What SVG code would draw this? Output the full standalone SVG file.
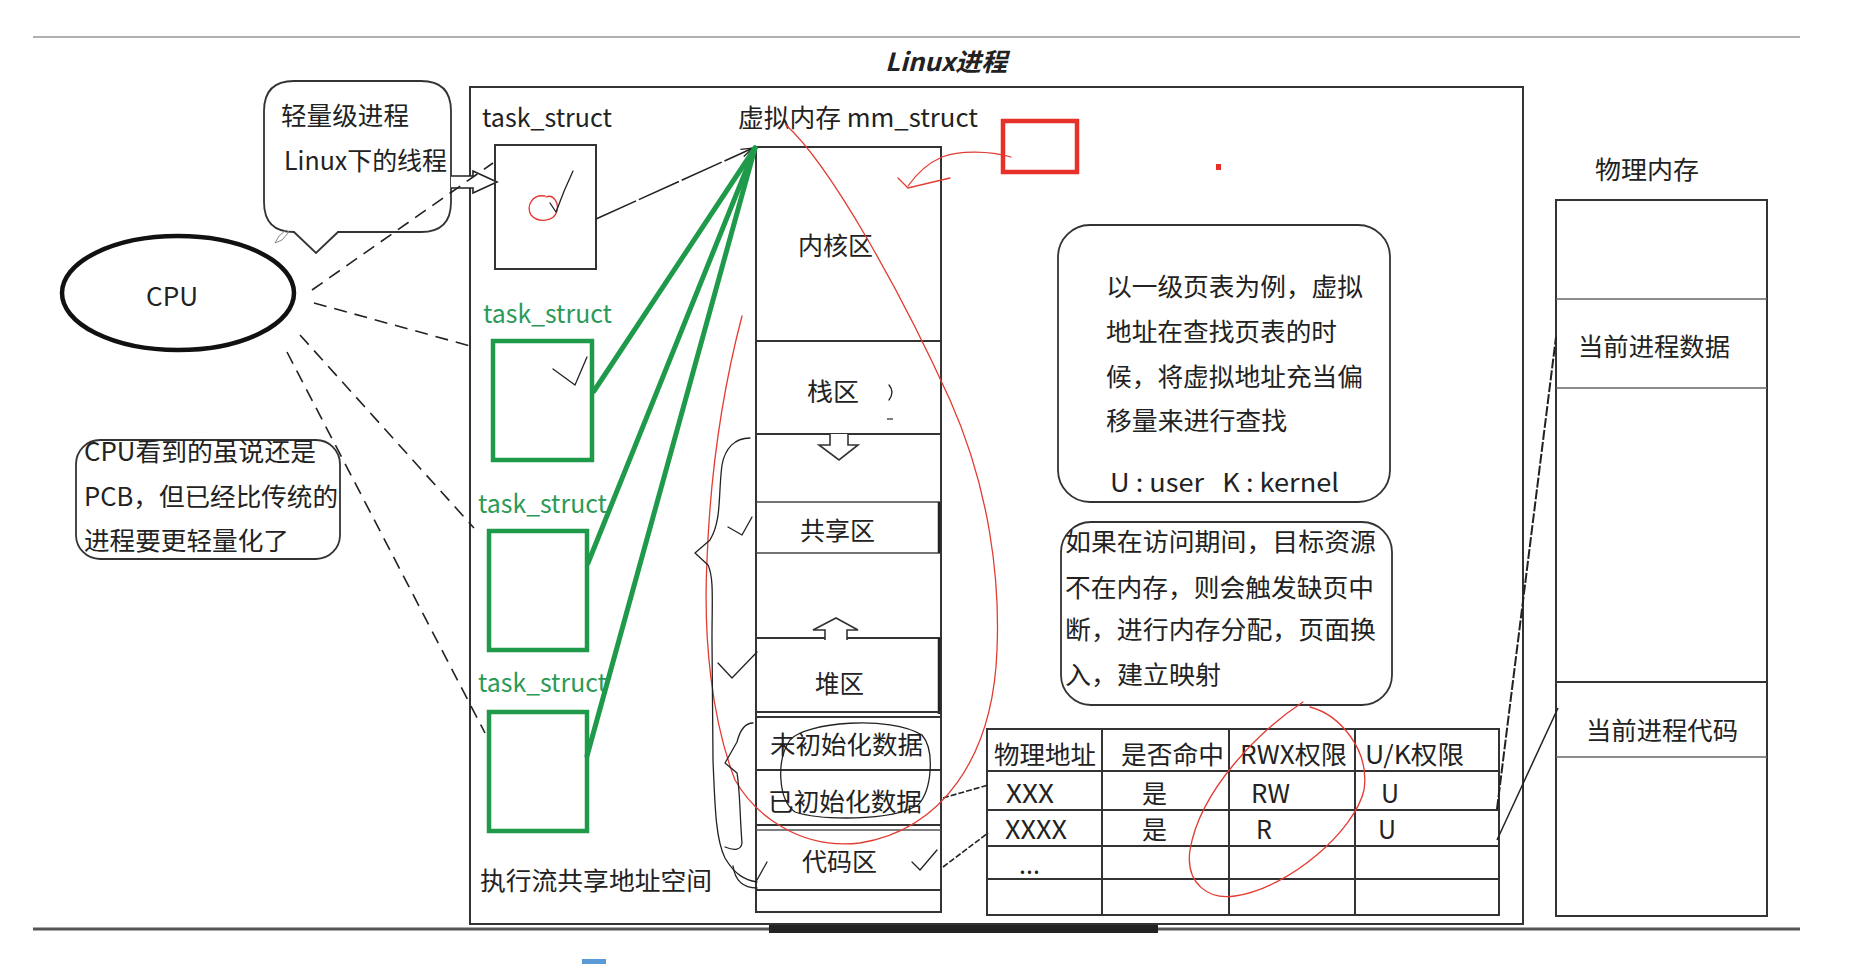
<svg xmlns="http://www.w3.org/2000/svg" width="1866" height="964" viewBox="0 0 1866 964">
<defs>
<style>
.t{font-family:"Noto Sans CJK SC","Noto Sans",sans-serif;font-size:25px;fill:#222}
.g{fill:#2a9a56}
.box{fill:none;stroke:#333;stroke-width:2}
.gbox{fill:none;stroke:#1f9a4b;stroke-width:4.5}
.gl{stroke:#1f9a4b;stroke-width:5;stroke-linecap:round;fill:none}
.dash{stroke:#222;stroke-width:1.6;stroke-dasharray:13 8;fill:none}
.hand{fill:none;stroke:#222;stroke-width:1.3;stroke-linecap:round;stroke-linejoin:round}
.red{fill:none;stroke:#e33b31;stroke-width:1.3;stroke-linecap:round}
.div{stroke:#333;stroke-width:2}
</style>
<marker id="open" markerWidth="14" markerHeight="10" refX="13" refY="5" orient="auto" markerUnits="userSpaceOnUse">
<path d="M1,1 L13,5 L1,9" fill="none" stroke="#222" stroke-width="1.3"/>
</marker>
</defs>
<rect width="1866" height="964" fill="#fff"/>

<!-- page lines -->
<line x1="33" y1="37" x2="1800" y2="37" stroke="#b0b0b0" stroke-width="2"/>
<line x1="33" y1="929" x2="1800" y2="929" stroke="#555" stroke-width="3"/>
<rect x="769" y="925" width="389" height="8" fill="#222"/>
<rect x="582" y="959" width="24" height="5" fill="#5b9bd5"/>

<text class="t" x="885" y="71" font-size="24" font-weight="bold" font-style="italic" textLength="122" lengthAdjust="spacingAndGlyphs">Linux进程</text>

<!-- main frame -->
<g id="main-frame">
<rect x="470" y="87" width="1053" height="837" class="box"/>
</g>

<!-- CPU -->
<g id="cpu">
<ellipse cx="178" cy="293" rx="116" ry="57" fill="#fff" stroke="#111" stroke-width="4.5"/>
<text class="t" x="146" y="306" font-size="26" textLength="52" lengthAdjust="spacingAndGlyphs">CPU</text>
</g>

<!-- bubble -->
<g id="bubble-lwp">
<path d="M294,81 H421 Q451,81 451,111 V202 Q451,232 421,232 H338 L316,253 L294,232 Q264,232 264,202 V111 Q264,81 294,81 Z" fill="#fff" stroke="#333" stroke-width="1.8"/>
<text class="t" x="281" y="125" textLength="128" lengthAdjust="spacingAndGlyphs">轻量级进程</text>
<text class="t" x="284" y="170" textLength="163" lengthAdjust="spacingAndGlyphs">Linux下的线程</text>
<path d="M275,243 L279,236 L286,230 L289,232 L282,240 Z" fill="none" stroke="#888" stroke-width="1"/>
<path d="M451,176 H473 V171 L497,182 L473,193 V188 H451" fill="#fff" stroke="#222" stroke-width="1.6"/>
</g>

<!-- CPU note -->
<g id="cpu-note">
<rect x="76" y="440" width="264" height="119" rx="24" fill="#fff" stroke="#333" stroke-width="1.8"/>
<text class="t" x="84" y="461" font-size="26" textLength="232" lengthAdjust="spacingAndGlyphs">CPU看到的虽说还是</text>
<text class="t" x="84" y="506" font-size="26" textLength="254" lengthAdjust="spacingAndGlyphs">PCB，但已经比传统的</text>
<text class="t" x="84" y="550" font-size="26" textLength="205" lengthAdjust="spacingAndGlyphs">进程要更轻量化了</text>
</g>

<!-- task_structs -->
<g id="task1">
<text class="t" x="482" y="127" textLength="130" lengthAdjust="spacingAndGlyphs">task_struct</text>
<rect x="495" y="145" width="101" height="124" class="box"/>
<path class="red" d="M545,196 C532,194 526,206 531,215 C538,223 554,222 557,211 C559,202 553,194 546,197"/>
<path class="hand" d="M550,203 L556,212 Q564,190 573,171"/>
</g>
<g id="task2">
<text class="t g" x="483" y="323" textLength="129" lengthAdjust="spacingAndGlyphs">task_struct</text>
<rect x="493" y="341" width="99" height="119" class="gbox"/>
<path class="hand" d="M553,369 L575,385 L587,357"/>
</g>
<g id="task3">
<text class="t g" x="478" y="513" textLength="129" lengthAdjust="spacingAndGlyphs">task_struct</text>
<rect x="489" y="531" width="98" height="119" class="gbox"/>
</g>
<g id="task4">
<text class="t g" x="478" y="692" textLength="129" lengthAdjust="spacingAndGlyphs">task_struct</text>
<rect x="489" y="712" width="98" height="119" class="gbox"/>
</g>

<text class="t" x="480" y="890" textLength="232" lengthAdjust="spacingAndGlyphs">执行流共享地址空间</text>

<!-- virtual memory column -->
<g id="vm">
<text class="t" x="738" y="127" textLength="240" lengthAdjust="spacingAndGlyphs">虚拟内存 mm_struct</text>
<rect x="756" y="147" width="185" height="765" class="box"/>
<line class="div" x1="756" y1="341" x2="941" y2="341"/>
<line class="div" x1="756" y1="434" x2="941" y2="434"/>
<line x1="756" y1="502" x2="941" y2="502" stroke="#444" stroke-width="1.5"/>
<line x1="756" y1="553" x2="941" y2="553" stroke="#444" stroke-width="1.5"/>
<line x1="939" y1="502" x2="939" y2="553" stroke="#222" stroke-width="2.5"/>
<line class="div" x1="756" y1="638" x2="941" y2="638" stroke-width="2.5"/>
<line x1="939" y1="638" x2="939" y2="714" stroke="#222" stroke-width="2.5"/>
<line class="div" x1="756" y1="712" x2="941" y2="712"/>
<line class="div" x1="756" y1="717" x2="941" y2="717"/>
<line class="div" x1="756" y1="770" x2="941" y2="770"/>
<line class="div" x1="756" y1="825" x2="941" y2="825"/>
<line x1="756" y1="830" x2="941" y2="830" stroke="#555" stroke-width="1.5"/>
<line class="div" x1="756" y1="890" x2="941" y2="890"/>
<text class="t" x="798" y="255" textLength="75" lengthAdjust="spacingAndGlyphs">内核区</text>
<text class="t" x="807" y="401" textLength="52" lengthAdjust="spacingAndGlyphs">栈区</text>
<text class="t" x="800" y="540" textLength="75" lengthAdjust="spacingAndGlyphs">共享区</text>
<text class="t" x="815" y="693" textLength="49" lengthAdjust="spacingAndGlyphs">堆区</text>
<text class="t" x="770" y="754" textLength="153" lengthAdjust="spacingAndGlyphs">未初始化数据</text>
<text class="t" x="768" y="811" textLength="154" lengthAdjust="spacingAndGlyphs">已初始化数据</text>
<text class="t" x="802" y="871" textLength="75" lengthAdjust="spacingAndGlyphs">代码区</text>
<path d="M830,434 V445 H819 L839,460 L858,445 H848 V434" fill="#fff" stroke="#333" stroke-width="1.6"/>
<path d="M825,640 V630 H813 L836,618 L858,630 H847 V640" fill="#fff" stroke="#333" stroke-width="1.6"/>
<path class="hand" d="M889,385 Q895,392 889,400"/>
<line x1="887" y1="419" x2="893" y2="419" stroke="#333" stroke-width="1.3"/>
</g>

<!-- page table note -->
<g id="note-pagetable">
<rect x="1058" y="225" width="332" height="277" rx="32" fill="#fff" stroke="#333" stroke-width="1.8"/>
<text class="t" x="1106" y="296" textLength="257" lengthAdjust="spacingAndGlyphs">以一级页表为例，虚拟</text>
<text class="t" x="1106" y="341" textLength="231" lengthAdjust="spacingAndGlyphs">地址在查找页表的时</text>
<text class="t" x="1106" y="386" textLength="257" lengthAdjust="spacingAndGlyphs">候，将虚拟地址充当偏</text>
<text class="t" x="1106" y="430" textLength="181" lengthAdjust="spacingAndGlyphs">移量来进行查找</text>
<text class="t" x="1110" y="492" textLength="229" lengthAdjust="spacingAndGlyphs">U : user&#160;&#160; K : kernel</text>
</g>

<!-- page fault note -->
<g id="note-pagefault">
<rect x="1061" y="522" width="331" height="183" rx="30" fill="#fff" stroke="#333" stroke-width="1.8"/>
<text class="t" x="1065" y="551" textLength="311" lengthAdjust="spacingAndGlyphs">如果在访问期间，目标资源</text>
<text class="t" x="1065" y="597" textLength="309" lengthAdjust="spacingAndGlyphs">不在内存，则会触发缺页中</text>
<text class="t" x="1065" y="639" textLength="311" lengthAdjust="spacingAndGlyphs">断，进行内存分配，页面换</text>
<text class="t" x="1065" y="684" textLength="156" lengthAdjust="spacingAndGlyphs">入，建立映射</text>
</g>

<!-- page table -->
<g id="page-table">
<rect x="987" y="729" width="512" height="186" class="box"/>
<line class="div" x1="987" y1="771" x2="1499" y2="771"/>
<line class="div" x1="987" y1="810" x2="1499" y2="810"/>
<line class="div" x1="987" y1="846" x2="1499" y2="846"/>
<line class="div" x1="987" y1="879" x2="1499" y2="879"/>
<line class="div" x1="1102" y1="729" x2="1102" y2="915"/>
<line class="div" x1="1229" y1="729" x2="1229" y2="915"/>
<line class="div" x1="1355" y1="729" x2="1355" y2="915"/>
<text class="t" x="994" y="764" font-size="24" textLength="102" lengthAdjust="spacingAndGlyphs">物理地址</text>
<text class="t" x="1121" y="764" font-size="24" textLength="103" lengthAdjust="spacingAndGlyphs">是否命中</text>
<text class="t" x="1240" y="764" font-size="24" textLength="107" lengthAdjust="spacingAndGlyphs">RWX权限</text>
<text class="t" x="1365" y="764" font-size="24" textLength="99" lengthAdjust="spacingAndGlyphs">U/K权限</text>
<text class="t" x="1006" y="803" font-size="24" textLength="48" lengthAdjust="spacingAndGlyphs">XXX</text>
<text class="t" x="1142" y="803" font-size="24">是</text>
<text class="t" x="1251" y="803" font-size="24" textLength="39" lengthAdjust="spacingAndGlyphs">RW</text>
<text class="t" x="1381" y="803" font-size="24">U</text>
<text class="t" x="1005" y="839" font-size="23" textLength="62" lengthAdjust="spacingAndGlyphs">XXXX</text>
<text class="t" x="1142" y="839" font-size="23">是</text>
<text class="t" x="1256" y="839" font-size="23">R</text>
<text class="t" x="1378" y="839" font-size="23">U</text>
<text class="t" x="1019" y="874" font-size="18">...</text>
</g>

<!-- physical memory -->
<g id="phys-mem">
<text class="t" x="1595" y="179" font-size="24" textLength="104" lengthAdjust="spacingAndGlyphs">物理内存</text>
<rect x="1556" y="200" width="211" height="716" class="box"/>
<line x1="1556" y1="299" x2="1767" y2="299" stroke="#666" stroke-width="1.3"/>
<line x1="1556" y1="388" x2="1767" y2="388" stroke="#666" stroke-width="1.3"/>
<line x1="1556" y1="682" x2="1767" y2="682" stroke="#333" stroke-width="1.8"/>
<line x1="1556" y1="757" x2="1767" y2="757" stroke="#666" stroke-width="1.3"/>
<text class="t" x="1578" y="356" textLength="152" lengthAdjust="spacingAndGlyphs">当前进程数据</text>
<text class="t" x="1586" y="740" textLength="152" lengthAdjust="spacingAndGlyphs">当前进程代码</text>
</g>

<!-- connectors -->
<g id="connectors">
<line class="dash" x1="312" y1="290" x2="493" y2="163"/>
<line class="dash" x1="314" y1="303" x2="474" y2="347"/>
<line class="dash" x1="300" y1="335" x2="474" y2="528"/>
<line class="dash" x1="287" y1="352" x2="485" y2="733"/>
<line x1="596" y1="219" x2="753" y2="148" stroke="#222" stroke-width="1.6" stroke-dasharray="44 3" marker-end="url(#open)"/>
<line class="gl" x1="594" y1="391" x2="755" y2="148"/>
<line class="gl" x1="588" y1="563" x2="755" y2="148"/>
<line class="gl" x1="587" y1="756" x2="755" y2="148"/>
<line x1="943" y1="798" x2="988" y2="785" stroke="#222" stroke-width="1.6" stroke-dasharray="6 2"/>
<line x1="943" y1="867" x2="988" y2="833" stroke="#222" stroke-width="1.6" stroke-dasharray="6 2"/>
<line x1="1497" y1="809" x2="1556" y2="337" stroke="#222" stroke-width="2" stroke-dasharray="10 2"/>
<line x1="1497" y1="840" x2="1558" y2="708" stroke="#222" stroke-width="1.5"/>
</g>

<!-- hand annotations -->
<g id="annotations">
<rect x="1003" y="121" width="74" height="51" fill="none" stroke="#e8302a" stroke-width="4.5"/>
<rect x="1216" y="164" width="5" height="6" fill="#e8302a"/>
<path class="red" d="M1011,157 C990,151 960,150 942,157 C926,164 915,176 908,186"/>
<path class="red" d="M898,178 L908,188 L950,178"/>
<path class="red" d="M786,125 C830,165 900,290 950,400 C990,490 1000,580 997,650 C993,760 940,830 860,843 C800,850 755,815 735,780 C712,720 703,640 707,560 C710,480 720,400 742,316"/>
<path class="red" d="M1303,702 C1260,730 1200,790 1190,850 C1185,885 1210,900 1235,896 C1290,888 1355,830 1364,790 C1370,750 1340,715 1310,707"/>
<path class="hand" d="M750,438 C735,438 725,448 722,465 C718,495 722,520 710,540 L695,553 L708,565 C714,578 712,600 712,640 L713,760 C715,810 716,840 725,858 C735,875 745,880 757,882"/>
<path class="hand" d="M728,527 L742,535 L752,517"/>
<path class="hand" d="M718,663 L732,678 L757,652"/>
<path class="hand" d="M753,723 C745,723 740,730 737,742 L725,763 L737,773 C740,790 740,820 742,843 C741,850 735,851 725,847"/>
<path class="hand" d="M733,866 C735,880 742,888 757,888"/>
<path class="hand" d="M757,880 L767,862"/>
<path class="hand" d="M790,740 C805,722 890,715 922,735 C935,750 932,790 918,805 C890,822 820,820 795,812 C778,800 776,760 790,740"/>
<path class="hand" d="M912,862 L920,870 L937,850"/>
</g>
</svg>
